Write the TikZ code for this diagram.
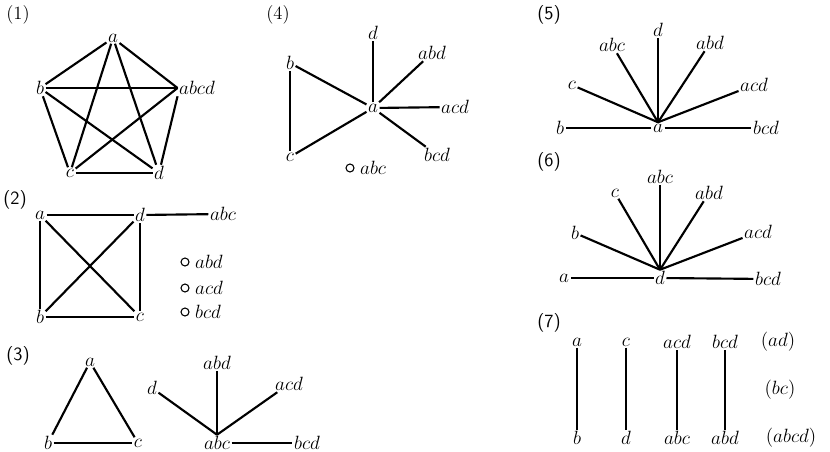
\documentclass[tikz,border=0pt]{standalone}
\usetikzlibrary{positioning}
\begin{document}
\begin{tikzpicture}[x=0.75pt,y=-0.75pt,
    titik/.style={inner sep=1pt, font=\fontsize{15}{17}\selectfont},
    sisi/.style={line width=1.6pt},
    nomor/.style={font=\fontsize{14}{16}\selectfont},
    nomorsf/.style={font=\sffamily\fontsize{14}{16}\selectfont},
    terasing/.style={draw, circle, inner sep=0pt, minimum size=6pt, line width=0.8pt}]
    \useasboundingbox (0,0) rectangle (830,452);

    % Graf (1): lima titik, semua terhubung
    \node[nomor] (n1) at (18,15) {(1)};
    \node[titik] (p1a) at (113,38) {$a$};
    \node[titik] (p1b) at (40,88) {$b$};
    \node[titik] (p1abcd) at (197,88) {$abcd$};
    \node[titik] (p1c) at (70,173) {$c$};
    \node[titik] (p1d) at (159,173) {$d$};
    \foreach \u/\v in {a/b,a/c,a/d,b/c,b/d,c/d}
        \draw[sisi] (p1\u) -- (p1\v);
    \foreach \u in {a,b,c}
        \draw[sisi] (p1\u) -- (p1abcd.west);
    \draw[sisi] (p1d) -- (p1abcd.south west);

    % Graf (2): persegi dengan diagonal
    \node[nomorsf] (n2) at (15,200) {(2)};
    \node[titik] (p2a) at (40,215) {$a$};
    \node[titik] (p2d) at (140,215) {$d$};
    \node[titik] (p2abc) at (223,214) {$abc$};
    \node[titik] (p2b) at (40,317) {$b$};
    \node[titik] (p2c) at (140,317) {$c$};
    \foreach \u/\v in {a/d,a/b,a/c,d/b,d/c,b/c,d/abc}
        \draw[sisi] (p2\u) -- (p2\v);

    % Titik terasing pada (2)
    \node[terasing] (p2o1) at (185,262) {};
    \node[terasing] (p2o2) at (185,288) {};
    \node[terasing] (p2o3) at (185,312) {};
    \node[titik, right=3pt of p2o1] (p2abd) {$abd$};
    \node[titik, right=3pt of p2o2] (p2acd) {$acd$};
    \node[titik, right=3pt of p2o3] (p2bcd) {$bcd$};

    % Graf (3): segitiga dan bintang
    \node[nomorsf] (n3) at (18,356) {(3)};
    \node[titik] (p3a) at (90,362) {$a$};
    \node[titik] (p3b) at (48,443) {$b$};
    \node[titik] (p3c) at (138,443) {$c$};
    \foreach \u/\v in {a/b,a/c,b/c}
        \draw[sisi] (p3\u) -- (p3\v);
    \node[titik] (p3abc) at (217,443) {$abc$};
    \node[titik] (p3d) at (152,388) {$d$};
    \node[titik] (p3abd) at (217,363) {$abd$};
    \node[titik] (p3acd) at (289,384) {$acd$};
    \node[titik] (p3bcd) at (307,443) {$bcd$};
    \foreach \v in {d,abd,acd}
        \draw[sisi] (p3abc.north) -- (p3\v);
    \draw[sisi] (p3abc) -- (p3bcd);

    % Graf (4)
    \node[nomor] (n4) at (278,15) {(4)};
    \node[titik] (p4d) at (373,33) {$d$};
    \node[titik] (p4abd) at (432,53) {$abd$};
    \node[titik] (p4b) at (290,63) {$b$};
    \node[titik] (p4a) at (373,108) {$a$};
    \node[titik] (p4acd) at (455,107) {$acd$};
    \node[titik] (p4c) at (290,157) {$c$};
    \node[titik] (p4bcd) at (437,155) {$bcd$};
    \draw[sisi] (p4b) -- (p4c);
    \foreach \v in {b,c,d,abd,acd,bcd}
        \draw[sisi] (p4a) -- (p4\v);
    \node[terasing] (p4o) at (350,168) {};
    \node[titik, right=3pt of p4o] (p4abc) {$abc$};

    % Graf (5): kipas dari a
    \node[nomorsf] (n5) at (549,15) {(5)};
    \node[titik] (p5a) at (658,128) {$a$};
    \node[titik] (p5b) at (560,128) {$b$};
    \node[titik] (p5c) at (572,85) {$c$};
    \node[titik] (p5abc) at (612,45) {$abc$};
    \node[titik] (p5d) at (658,30) {$d$};
    \node[titik] (p5abd) at (710,43) {$abd$};
    \node[titik] (p5acd) at (754,85) {$acd$};
    \node[titik] (p5bcd) at (766,128) {$bcd$};
    \foreach \v in {c,abc,d,abd,acd}
        \draw[sisi] (p5a.north) -- (p5\v);
    \draw[sisi] (p5a) -- (p5b);
    \draw[sisi] (p5a) -- (p5bcd);

    % Graf (6): kipas dari d
    \node[nomorsf] (n6) at (549,162) {(6)};
    \node[titik] (p6d) at (660,278) {$d$};
    \node[titik] (p6a) at (564,278) {$a$};
    \node[titik] (p6b) at (575,233) {$b$};
    \node[titik] (p6c) at (615,193) {$c$};
    \node[titik] (p6abc) at (660,177) {$abc$};
    \node[titik] (p6abd) at (709,193) {$abd$};
    \node[titik] (p6acd) at (758,232) {$acd$};
    \node[titik] (p6bcd) at (768,279) {$bcd$};
    \foreach \v in {b,c,abc,abd,acd}
        \draw[sisi] (p6d.north) -- (p6\v);
    \draw[sisi] (p6d) -- (p6a);
    \draw[sisi] (p6d) -- (p6bcd);

    % Graf (7): empat pasang
    \node[nomorsf] (n7) at (549,323) {(7)};
    \node[titik] (p7a) at (577,342) {$a$};
    \node[titik] (p7c) at (626,342) {$c$};
    \node[titik] (p7acd) at (677,342) {$acd$};
    \node[titik] (p7bcd) at (725,342) {$bcd$};
    \node[titik] (p7b) at (577,438) {$b$};
    \node[titik] (p7d) at (626,438) {$d$};
    \node[titik] (p7abc) at (677,438) {$abc$};
    \node[titik] (p7abd) at (725,438) {$abd$};
    \foreach \u/\v in {a/b,c/d,acd/abc,bcd/abd}
        \draw[sisi] (p7\u) -- (p7\v);
    \node[titik] (p7ad) at (778,342) {$(ad)$};
    \node[titik] (p7bc) at (780,390) {$(bc)$};
    \node[titik] (p7abcd) at (791,438) {$(abcd)$};

\end{tikzpicture}
\end{document}
